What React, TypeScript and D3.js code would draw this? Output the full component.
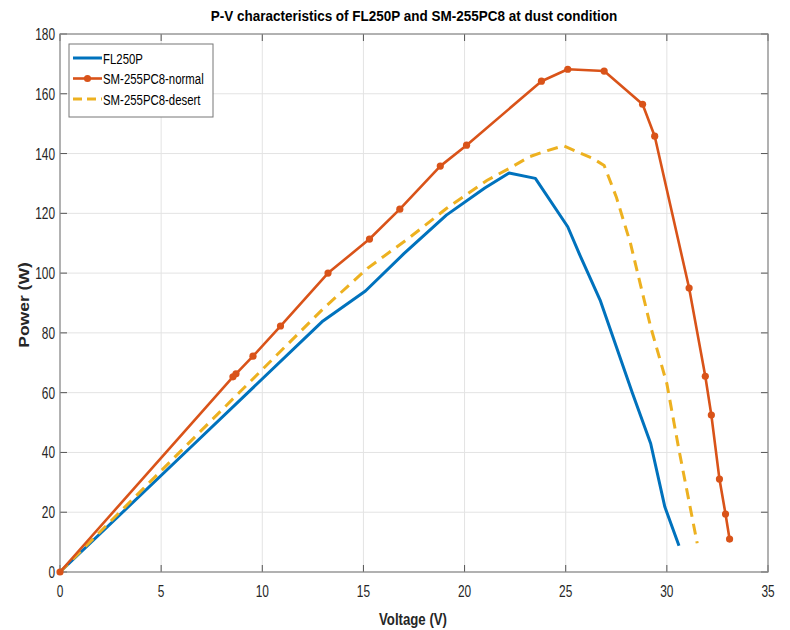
import React from "react";
import * as d3 from "d3";

const xTicks = [0, 5, 10, 15, 20, 25, 30, 35];
const yTicks = [0, 20, 40, 60, 80, 100, 120, 140, 160, 180];

const flV = [0, 6.5, 13.0, 15.1, 17.0, 19.1, 21.0, 22.2, 23.5, 25.1, 25.7, 26.7, 28.3, 29.2, 29.9, 30.6];
const flP = [0, 42, 84, 94, 106.5, 119.4, 128.5, 133.5, 131.7, 115.5, 106, 91, 59.8, 43, 21.8, 8.8];

const normV = [0, 8.55, 8.7, 9.54, 10.9, 13.25, 15.3, 16.8, 18.8, 20.1, 23.8, 25.1, 26.9, 28.8, 29.4, 31.1, 31.9, 32.2, 32.6, 32.9, 33.1];
const normP = [0, 65.3, 66.3, 72.2, 82.3, 100, 111.4, 121.4, 135.8, 142.8, 164.2, 168.2, 167.6, 156.5, 145.8, 95, 65.5, 52.5, 31.1, 19.4, 11];

const desV = [0, 8.9, 13.0, 15.2, 17.3, 19.1, 21.1, 22.2, 23.2, 24.1, 24.9, 26.35, 26.9, 27.5, 28.2, 29.2, 30.0, 30.6, 31.5];
const desP = [0, 60.3, 88, 101.6, 112, 121.6, 131, 135, 138.9, 141, 142.6, 138.3, 136, 125.5, 110, 82, 63, 40.8, 9.6];

const seriesNames = ["FL250P", "SM-255PC8-normal", "SM-255PC8-desert"];
const colors = ["#0072BD", "#D95319", "#EDB120"];

const L = 60, R = 768, T = 34, B = 572;
const font = "'Liberation Sans', Arial, Helvetica, sans-serif";

function T2({ x, y, s, children, anchor = "start", size, bold = false, fill = "#262626" }: any) {
  return (
    <text transform={`translate(${x},${y}) scale(${s},1)`} textAnchor={anchor} fontFamily={font}
      fontSize={size} fontWeight={bold ? "bold" : "normal"} fill={fill}>{children}</text>
  );
}

export default function App() {
  const x = d3.scaleLinear().domain([0, 35]).range([L, R]);
  const y = d3.scaleLinear().domain([0, 180]).range([B, T]);
  const line = d3.line<[number, number]>().x(d => x(d[0])).y(d => y(d[1]));
  const fl = flV.map((v, i) => [v, flP[i]] as [number, number]);
  const nm = normV.map((v, i) => [v, normP[i]] as [number, number]);
  const ds = desV.map((v, i) => [v, desP[i]] as [number, number]);

  return (
    <svg width={790} height={630} style={{ position: "absolute", left: 0, top: 0, background: "#fff" }}>
      <rect x={0} y={0} width={790} height={630} fill="#fff" />
      {xTicks.map(t => (
        <line key={"gx" + t} x1={x(t)} x2={x(t)} y1={T} y2={B} stroke="#e3e3e3" strokeWidth={1} />
      ))}
      {yTicks.map(t => (
        <line key={"gy" + t} x1={L} x2={R} y1={y(t)} y2={y(t)} stroke="#e3e3e3" strokeWidth={1} />
      ))}
      {xTicks.map(t => (
        <g key={"tx" + t}>
          <line x1={x(t)} x2={x(t)} y1={B} y2={B - 7} stroke="#555" strokeWidth={1} />
          <line x1={x(t)} x2={x(t)} y1={T} y2={T + 7} stroke="#555" strokeWidth={1} />
          <T2 x={x(t)} y={B + 25} s={0.7} anchor="middle" size={17}>{t}</T2>
        </g>
      ))}
      {yTicks.map(t => (
        <g key={"ty" + t}>
          <line x1={L} x2={L + 7} y1={y(t)} y2={y(t)} stroke="#555" strokeWidth={1} />
          <line x1={R} x2={R - 7} y1={y(t)} y2={y(t)} stroke="#555" strokeWidth={1} />
          <T2 x={L - 5} y={y(t) + 6} s={0.7} anchor="end" size={17}>{t}</T2>
        </g>
      ))}
      <rect x={L} y={T} width={R - L} height={B - T} fill="none" stroke="#888" strokeWidth={1.2} />

      <path d={line(fl) || ""} fill="none" stroke={colors[0]} strokeWidth={3} strokeLinejoin="round" />
      <path d={line(ds) || ""} fill="none" stroke={colors[2]} strokeWidth={3} strokeDasharray="11 7" />
      <path d={line(nm) || ""} fill="none" stroke={colors[1]} strokeWidth={2.6} strokeLinejoin="round" />
      {nm.map((d, i) => (
        <circle key={"m" + i} cx={x(d[0])} cy={y(d[1])} r={3.6} fill={colors[1]} />
      ))}

      <rect x={69} y={44} width={144} height={73} fill="#fff" stroke="#777" strokeWidth={1} />
      {seriesNames.map((n, i) => {
        const yy = 58 + i * 20.5;
        return (
          <g key={n}>
            <line x1={73} x2={102} y1={yy} y2={yy} stroke={colors[i]} strokeWidth={i === 1 ? 2.6 : 3}
              strokeDasharray={i === 2 ? "9 5" : undefined} />
            {i === 1 && <circle cx={87.5} cy={yy} r={3.6} fill={colors[1]} />}
            <T2 x={103} y={yy + 5.5} s={0.76} size={15} fill="#000">{n}</T2>
          </g>
        );
      })}

      <T2 x={414} y={21} s={0.9} anchor="middle" size={15} bold fill="#000">
        P-V characteristics of FL250P and SM-255PC8 at dust condition
      </T2>
      <T2 x={413} y={625} s={0.8} anchor="middle" size={16.5} bold>Voltage (V)</T2>
      <text transform="translate(24,305) scale(0.8,1) rotate(-90)" y={6} textAnchor="middle" fontFamily={font}
        fontWeight="bold" fontSize={17.5} fill="#262626">
        Power (W)
      </text>
    </svg>
  );
}
